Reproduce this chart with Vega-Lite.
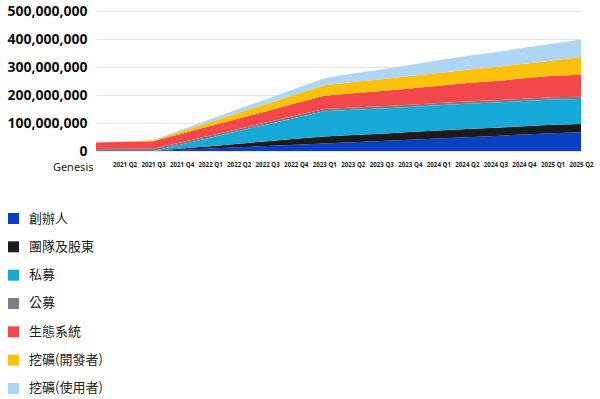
{
  "$schema": "https://vega.github.io/schema/vega-lite/v6.json",
  "width": 485,
  "height": 140,
  "autosize": {"type": "none"},
  "padding": {"left": 96, "top": 11, "right": 19, "bottom": 248},
  "background": "white",
  "config": {"view": {"stroke": null}, "font": "Noto Sans"},
  "data": {"values": [
    {"q": "Genesis", "創辦人": 0, "團隊及股東": 0, "私募": 0, "公募": 7, "生態系統": 23, "挖礦(開發者)": 0, "挖礦(使用者)": 0},
    {"q": "2021 Q2", "創辦人": 0, "團隊及股東": 0, "私募": 0, "公募": 8, "生態系統": 25, "挖礦(開發者)": 1, "挖礦(使用者)": 0},
    {"q": "2021 Q3", "創辦人": 0, "團隊及股東": 0, "私募": 0, "公募": 8, "生態系統": 27, "挖礦(開發者)": 3, "挖礦(使用者)": 1},
    {"q": "2021 Q4", "創辦人": 4.5, "團隊及股東": 4, "私募": 15, "公募": 8, "生態系統": 30, "挖礦(開發者)": 9, "挖礦(使用者)": 5},
    {"q": "2022 Q1", "創辦人": 9, "團隊及股東": 8, "私募": 30, "公募": 8, "生態系統": 34, "挖礦(開發者)": 15, "挖礦(使用者)": 9},
    {"q": "2022 Q2", "創辦人": 13.5, "團隊及股東": 12.5, "私募": 45, "公募": 8, "生態系統": 37, "挖礦(開發者)": 21, "挖礦(使用者)": 13},
    {"q": "2022 Q3", "創辦人": 18, "團隊及股東": 17, "私募": 60, "公募": 8, "生態系統": 40, "挖礦(開發者)": 26, "挖礦(使用者)": 17},
    {"q": "2022 Q4", "創辦人": 22.5, "團隊及股東": 21, "私募": 75, "公募": 8, "生態系統": 44, "挖礦(開發者)": 32, "挖礦(使用者)": 21},
    {"q": "2023 Q1", "創辦人": 27, "團隊及股東": 25, "私募": 90, "公募": 8, "生態系統": 47, "挖礦(開發者)": 38, "挖礦(使用者)": 25},
    {"q": "2023 Q2", "創辦人": 31.5, "團隊及股東": 26, "私募": 90, "公募": 8, "生態系統": 51, "挖礦(開發者)": 40, "挖礦(使用者)": 30},
    {"q": "2023 Q3", "創辦人": 36, "團隊及股東": 26, "私募": 90, "公募": 8, "生態系統": 54, "挖礦(開發者)": 42, "挖礦(使用者)": 35},
    {"q": "2023 Q4", "創辦人": 40.5, "團隊及股東": 27, "私募": 90, "公募": 8, "生態系統": 58, "挖礦(開發者)": 44, "挖礦(使用者)": 40},
    {"q": "2024 Q1", "創辦人": 45, "團隊及股東": 28, "私募": 90, "公募": 8, "生態系統": 62, "挖礦(開發者)": 46, "挖礦(使用者)": 45},
    {"q": "2024 Q2", "創辦人": 49.5, "團隊及股東": 29, "私募": 90, "公募": 8, "生態系統": 66, "挖礦(開發者)": 48, "挖礦(使用者)": 49},
    {"q": "2024 Q3", "創辦人": 54, "團隊及股東": 29, "私募": 90, "公募": 8, "生態系統": 69, "挖礦(開發者)": 50, "挖礦(使用者)": 53},
    {"q": "2024 Q4", "創辦人": 58.5, "團隊及股東": 30, "私募": 90, "公募": 8, "生態系統": 73, "挖礦(開發者)": 52, "挖礦(使用者)": 57},
    {"q": "2025 Q1", "創辦人": 63, "團隊及股東": 31, "私募": 90, "公募": 8, "生態系統": 77, "挖礦(開發者)": 54, "挖礦(使用者)": 60},
    {"q": "2025 Q2", "創辦人": 67, "團隊及股東": 29, "私募": 90, "公募": 8, "生態系統": 78, "挖礦(開發者)": 64, "挖礦(使用者)": 62}
  ]},
  "transform": [
    {"fold": ["創辦人", "團隊及股東", "私募", "公募", "生態系統", "挖礦(開發者)", "挖礦(使用者)"], "as": ["series", "value"]},
    {"calculate": "indexof(['創辦人', '團隊及股東', '私募', '公募', '生態系統', '挖礦(開發者)', '挖礦(使用者)'], datum.series)", "as": "k"}
  ],
  "mark": {"type": "area", "opacity": 1},
  "encoding": {
    "x": {
      "field": "q", "type": "ordinal", "sort": null,
      "scale": {"type": "point", "padding": 0},
      "axis": {
        "title": null, "domain": false, "ticks": false, "grid": false,
        "labelAngle": 0,
        "labelPadding": 10,
        "labelColor": "#222",
        "labelFont": "Noto Sans",
        "labelFontSize": {"condition": {"test": "datum.value == 'Genesis'", "value": 11}, "value": 6.2},
        "labelFontWeight": {"condition": {"test": "datum.value == 'Genesis'", "value": "normal"}, "value": "bold"},
        "labelAlign": {"condition": {"test": "datum.value == 'Genesis'", "value": "right"}, "value": "center"},
        "labelOffset": {"condition": {"test": "datum.value == 'Genesis'", "value": -3}, "value": 0},
        "labelOverlap": false
      }
    },
    "y": {
      "field": "value", "type": "quantitative", "stack": "zero",
      "scale": {"domain": [0, 500]},
      "axis": {
        "title": null, "domain": false, "ticks": false,
        "values": [0, 100, 200, 300, 400, 500],
        "labelExpr": "format(datum.value * 1000000, ',d')",
        "labelFont": "Noto Sans", "labelFontSize": 14, "labelFontWeight": "bold",
        "labelColor": "#111", "labelPadding": 9,
        "gridColor": "#e4e4e4", "gridWidth": 1
      }
    },
    "order": {"field": "k", "type": "quantitative", "sort": "ascending"},
    "color": {
      "field": "series", "type": "nominal",
      "sort": ["創辦人", "團隊及股東", "私募", "公募", "生態系統", "挖礦(開發者)", "挖礦(使用者)"],
      "scale": {
        "domain": ["創辦人", "團隊及股東", "私募", "公募", "生態系統", "挖礦(開發者)", "挖礦(使用者)"],
        "range": ["#0a3ec3", "#1b1b1b", "#17a9d8", "#7b7e89", "#f2474b", "#fdc10c", "#aed5f3"]
      },
      "legend": {
        "title": null, "orient": "none", "legendX": -89, "legendY": 201,
        "direction": "vertical",
        "symbolType": "square", "symbolSize": 121, "symbolStrokeWidth": 0, "symbolOpacity": 1,
        "labelFont": "Noto Sans CJK TC", "labelFontSize": 13, "labelColor": "#222",
        "labelOffset": 9, "rowPadding": 14.33, "padding": 0
      }
    }
  }
}
